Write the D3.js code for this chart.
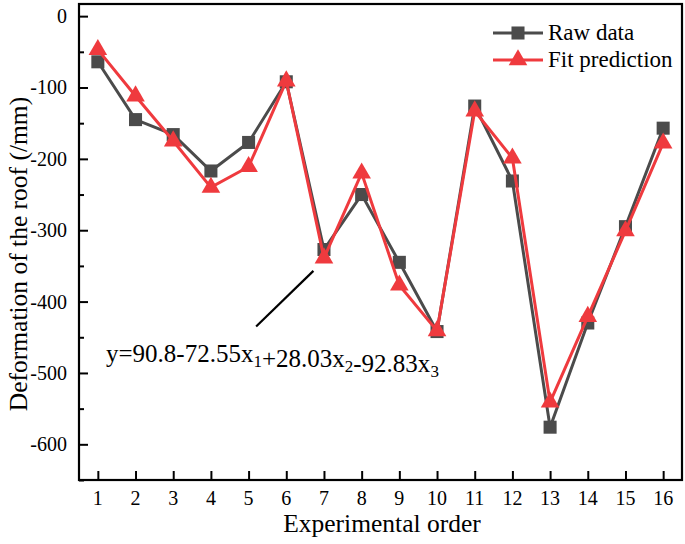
<!DOCTYPE html>
<html>
<head>
<meta charset="utf-8">
<script src="https://cdn.jsdelivr.net/npm/d3@7"></script>
<style>
  html, body { margin: 0; padding: 0; background: #fff; }
  svg { display: block; }
  text { font-family: "Liberation Serif", "Times New Roman", serif; fill: #000; }
</style>
</head>
<body>
<svg id="chart" width="685" height="544"></svg>
<script>
// ---- data ----
const orders = [1, 2, 3, 4, 5, 6, 7, 8, 9, 10, 11, 12, 13, 14, 15, 16];
const rawData = [-64, -145, -166, -217, -177, -92, -327, -250, -345, -442, -126, -231, -576, -430, -295, -157];
const fitPrediction = [-47, -112, -175, -240, -211, -91, -339, -220, -377, -441, -133, -199, -541, -421, -301, -178];
const yTicks = [0, -100, -200, -300, -400, -500, -600];
const yMinorTicks = [-50, -150, -250, -350, -450, -550, -650];
const seriesNames = ["Raw data", "Fit prediction"];
const equationParts = [["y=90.8-72.55x", "1"], ["+28.03x", "2"], ["-92.83x", "3"]];

// ---- layout ----
const svg = d3.select("#chart");
const L = 79, R = 682, T = 4, B = 480;
const x = d3.scaleLinear().domain([0.5, 16.5]).range([L, R]);
const y = d3.scaleLinear().domain([-650, 17]).range([B, T]);

const grayC = "#4b4b4b", redC = "#ef3a3e";

// frame
svg.append("rect").attr("x", L).attr("y", T).attr("width", R - L).attr("height", B - T)
  .attr("fill", "none").attr("stroke", "#000").attr("stroke-width", 2.2);

// y axis
const yAxis = svg.append("g").attr("transform", `translate(${L},0)`)
  .call(d3.axisRight(y).tickValues(yTicks).tickSize(9).tickFormat(""));
yAxis.select(".domain").remove();
yAxis.selectAll("line").attr("stroke", "#000").attr("stroke-width", 2);
const yMinor = svg.append("g").attr("transform", `translate(${L},0)`)
  .call(d3.axisRight(y).tickValues(yMinorTicks).tickSize(5).tickFormat(""));
yMinor.select(".domain").remove();
yMinor.selectAll("line").attr("stroke", "#000").attr("stroke-width", 2);

svg.append("g").selectAll("text").data(yTicks).join("text")
  .attr("x", L - 12).attr("y", d => y(d) + 7)
  .attr("text-anchor", "end").attr("font-size", 20).text(d => d);

// x axis
const xAxis = svg.append("g").attr("transform", `translate(0,${B})`)
  .call(d3.axisTop(x).tickValues(orders).tickSize(9).tickFormat(""));
xAxis.select(".domain").remove();
xAxis.selectAll("line").attr("stroke", "#000").attr("stroke-width", 2);

svg.append("g").selectAll("text").data(orders).join("text")
  .attr("x", d => x(d)).attr("y", B + 25)
  .attr("text-anchor", "middle").attr("font-size", 20).text(d => d);

// axis titles
svg.append("text").attr("x", 382).attr("y", 532)
  .attr("text-anchor", "middle").attr("font-size", 25.5).text("Experimental order");
svg.append("text").attr("transform", `translate(27,254) rotate(-90)`)
  .attr("text-anchor", "middle").attr("font-size", 25.5).text("Deformation of the roof (/mm)");

// series
const line = d3.line().x((d, i) => x(orders[i])).y(d => y(d));
function drawSeries(vals, color, symbolType, size) {
  svg.append("path").datum(vals).attr("d", line)
    .attr("fill", "none").attr("stroke", color).attr("stroke-width", 3).attr("stroke-linejoin", "miter");
  svg.append("g").selectAll("path").data(vals).join("path")
    .attr("transform", (d, i) => `translate(${x(orders[i])},${y(d)})`)
    .attr("d", d3.symbol().type(symbolType).size(size)())
    .attr("fill", color);
}
drawSeries(rawData, grayC, d3.symbolSquare, 170);
drawSeries(fitPrediction, redC, d3.symbolTriangle, 150);

// annotation
svg.append("line")
  .attr("x1", x(5.2)).attr("y1", y(-435))
  .attr("x2", x(6.72)).attr("y2", y(-357))
  .attr("stroke", "#000").attr("stroke-width", 2.2);

const eq = svg.append("text").attr("x", 106).attr("y", 362).attr("font-size", 25);
equationParts.forEach(([main, sub]) => {
  eq.append("tspan").attr("dy", 0).text(main);
  eq.append("tspan").attr("font-size", 17).attr("dy", 5).text(sub);
  eq.append("tspan").attr("dy", -5).text("");
});

// legend
const legendRows = [
  { name: seriesNames[0], color: grayC, type: d3.symbolSquare, size: 170, ly: 33 },
  { name: seriesNames[1], color: redC, type: d3.symbolTriangle, size: 150, ly: 60 }
];
legendRows.forEach(r => {
  svg.append("line").attr("x1", 493).attr("x2", 543).attr("y1", r.ly).attr("y2", r.ly)
    .attr("stroke", r.color).attr("stroke-width", 3);
  svg.append("path").attr("transform", `translate(518,${r.ly})`)
    .attr("d", d3.symbol().type(r.type).size(r.size)()).attr("fill", r.color);
  svg.append("text").attr("x", 548).attr("y", r.ly + 7).attr("font-size", 23).text(r.name);
});
</script>
</body>
</html>
